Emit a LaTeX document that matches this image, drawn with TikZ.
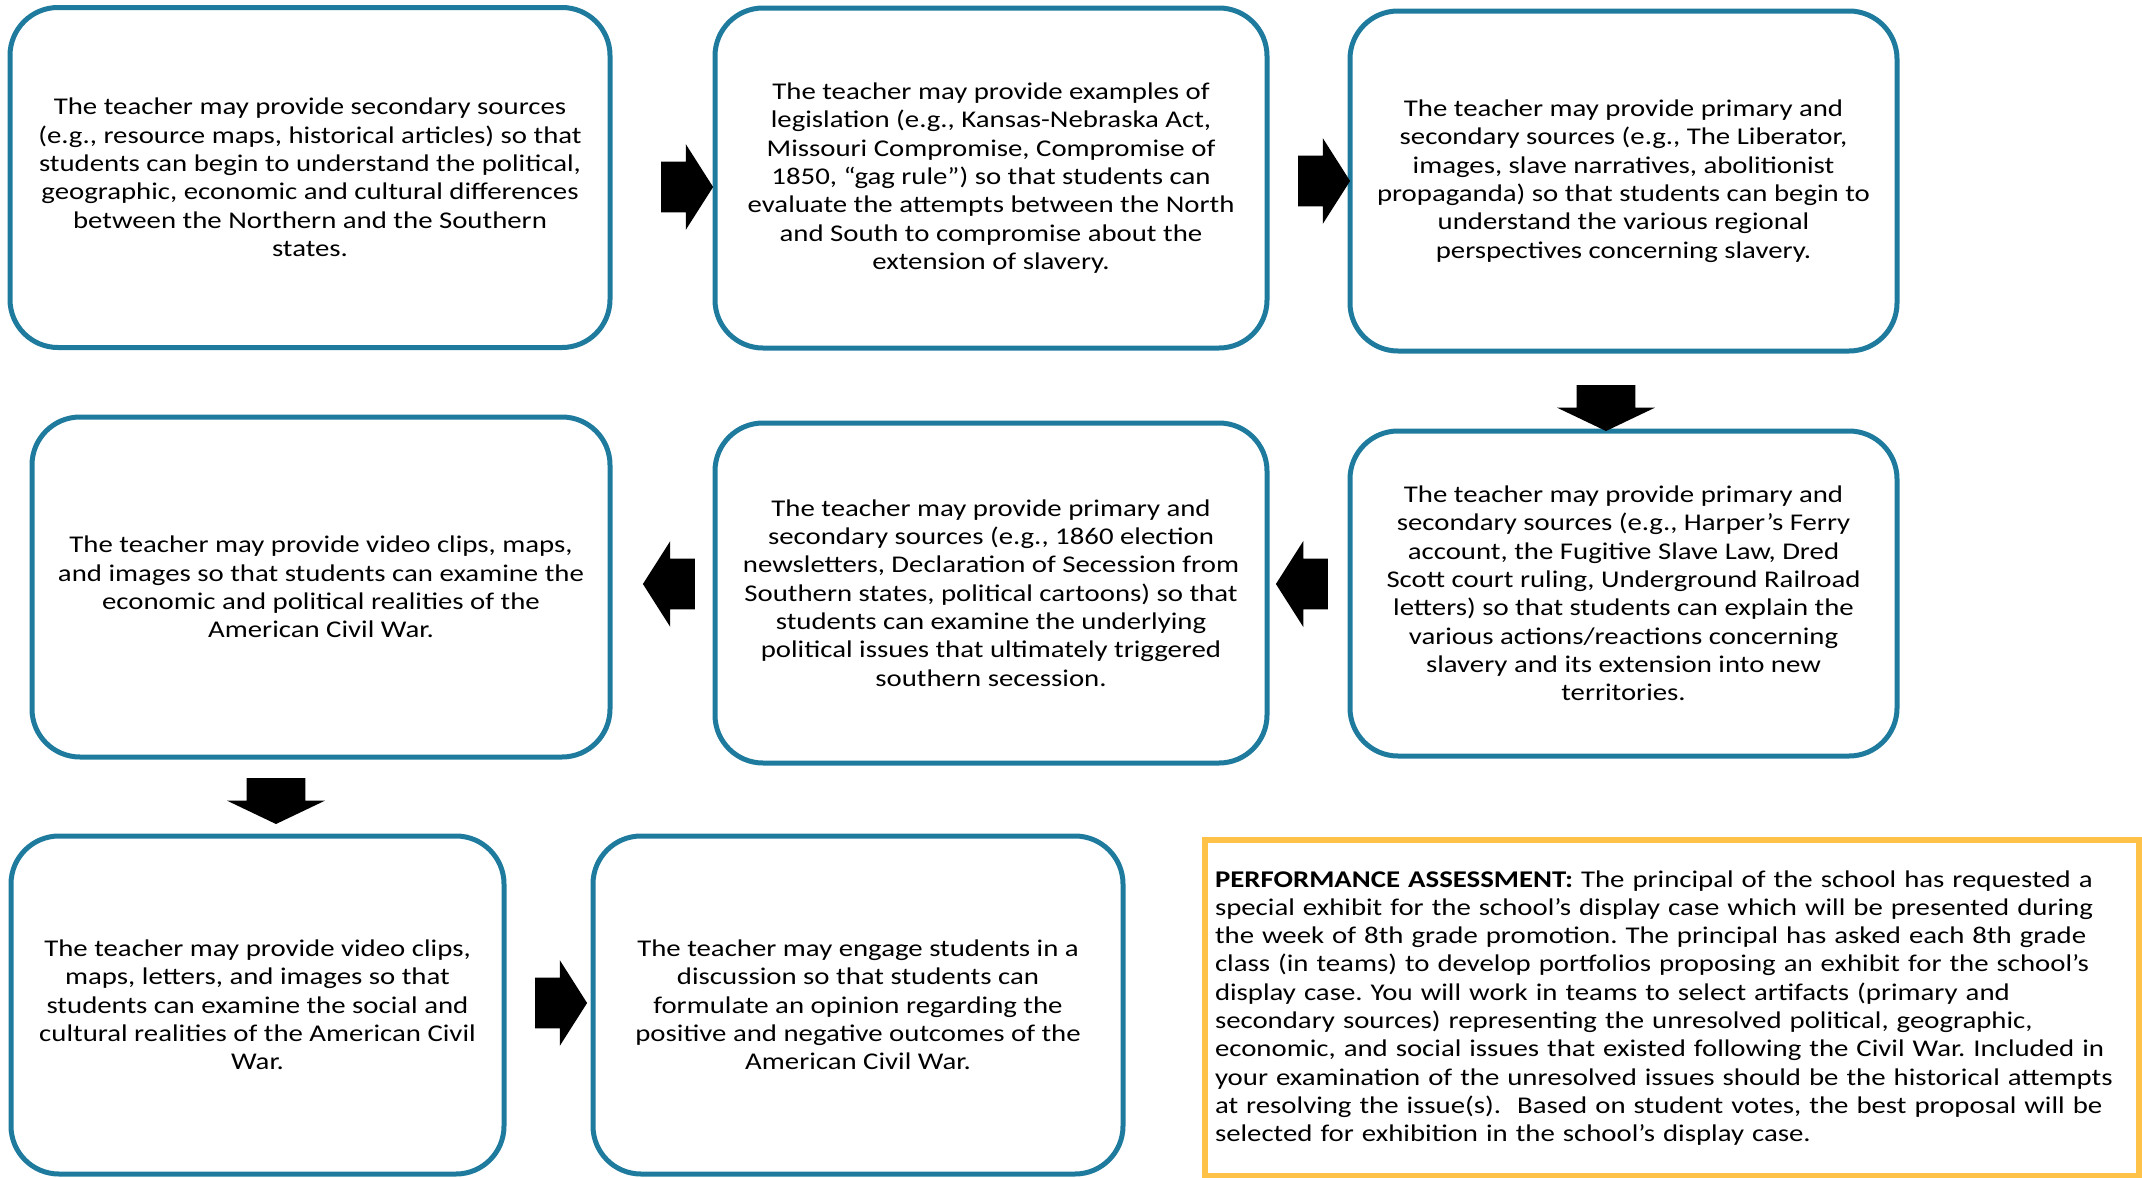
\documentclass[tikz,border=0pt]{standalone}
\usepackage{fontspec}
\setmainfont{Carlito}[FakeStretch=1.2]
\usetikzlibrary{shapes.arrows}
\definecolor{boxblue}{RGB}{31,123,157}
\definecolor{perfgold}{RGB}{255,194,72}
\frenchspacing

\begin{document}
\begin{tikzpicture}[x=0.5pt, y=-0.5pt, font=\fontsize{12}{14.15}\selectfont,
	stage/.style = {draw=boxblue, line width=2.5pt, rounded corners=24pt, align=center, inner sep=0pt, minimum height=170pt},
	goright/.style = {single arrow, fill=black, inner xsep=0pt, inner ysep=12.5pt, minimum height=26pt, single arrow head extend=8.75pt, single arrow tip angle=115},
	goleft/.style = {goright, rotate=180},
	godown/.style = {single arrow, fill=black, rotate=-90, inner xsep=0pt, inner ysep=14.5pt, minimum height=23pt, single arrow head extend=9.75pt, single arrow tip angle=129},
	assess/.style = {draw=perfgold, line width=3pt, align=left, text width=457pt, inner xsep=5pt, minimum height=168pt}]
	\useasboundingbox (0,0) rectangle (2142,1178);
	
	%First row of stages
	\node[stage, minimum width=300pt] (1) at (310,177.5) {The teacher may provide secondary sources\\(e.g., resource maps, historical articles) so that\\students can begin to understand the political,\\geographic, economic and cultural differences\\between the Northern and the Southern\\states.};
	\node[stage, minimum width=276pt] (2) at (991,178) {The teacher may provide examples of\\legislation (e.g., Kansas-Nebraska Act,\\Missouri Compromise, Compromise of\\1850, “gag rule”) so that students can\\evaluate the attempts between the North\\and South to compromise about the\\extension of slavery.};
	\node[stage, minimum width=273.5pt] (3) at (1623.5,181) {The teacher may provide primary and\\secondary sources (e.g., The Liberator,\\images, slave narratives, abolitionist\\propaganda) so that students can begin to\\understand the various regional\\perspectives concerning slavery.};
	
	%Second row of stages (read right to left)
	\node[stage, minimum width=273.5pt, minimum height=162.5pt] (6) at (1623.5,593.5) {The teacher may provide primary and\\secondary sources (e.g., Harper’s Ferry\\account, the Fugitive Slave Law, Dred\\Scott court ruling, Underground Railroad\\letters) so that students can explain the\\various actions/reactions concerning\\slavery and its extension into new\\territories.};
	\node[stage, minimum width=276pt] (5) at (991,593) {The teacher may provide primary and\\secondary sources (e.g., 1860 election\\newsletters, Declaration of Secession from\\Southern states, political cartoons) so that\\students can examine the underlying\\political issues that ultimately triggered\\southern secession.};
	\node[stage, minimum width=289pt] (4) at (321,587) {The teacher may provide video clips, maps,\\and images so that students can examine the\\economic and political realities of the\\American Civil War.};
	
	%Third row of stages
	\node[stage, minimum width=246.5pt, minimum height=169pt] (7) at (257.5,1005) {The teacher may provide video clips,\\maps, letters, and images so that\\students can examine the social and\\cultural realities of the American Civil\\War.};
	\node[stage, minimum width=265pt, minimum height=169pt] (8) at (858,1005) {The teacher may engage students in a\\discussion so that students can\\formulate an opinion regarding the\\positive and negative outcomes of the\\American Civil War.};
	
	%Block arrows between stages
	\node[goright] (a12) at (679,187) {}; %Arrow 1 -> 2
	\node[goright] (a23) at (1316,181) {}; %Arrow 2 -> 3
	\node[godown] (a36) at (1606,401) {}; %Arrow 3 -> 6
	\node[goleft] (a65) at (1310,584) {}; %Arrow 6 -> 5
	\node[goleft] (a54) at (677,584) {}; %Arrow 5 -> 4
	\node[godown] (a47) at (276,794) {}; %Arrow 4 -> 7
	\node[goright] (a78) at (553,1003) {}; %Arrow 7 -> 8
	
	%Performance assessment
	\node[assess] (pa) at (1672,1008) {\textbf{PERFORMANCE ASSESSMENT:} The principal of the school has requested a\\special exhibit for the school’s display case which will be presented during\\the week of 8th grade promotion. The principal has asked each 8th grade\\class (in teams) to develop portfolios proposing an exhibit for the school’s\\display case. You will work in teams to select artifacts (primary and\\secondary sources) representing the unresolved political, geographic,\\economic, and social issues that existed following the Civil War. Included in\\your examination of the unresolved issues should be the historical attempts\\at resolving the issue(s).\ \ Based on student votes, the best proposal will be\\selected for exhibition in the school’s display case.};
\end{tikzpicture}
\end{document}
